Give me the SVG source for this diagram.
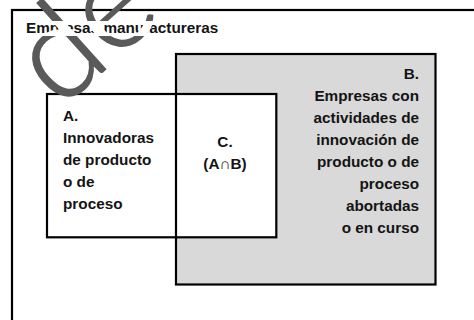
<svg xmlns="http://www.w3.org/2000/svg" width="474" height="320" viewBox="0 0 474 320">
<defs>
<style>
.box{stroke:#000;stroke-width:2.2}
.t{font-family:"Liberation Sans",Arial,sans-serif;font-weight:bold;font-size:15.3px;fill:#141414}
.wm{font-family:Lato,"DejaVu Sans",sans-serif;font-weight:300;font-size:130px}
</style>
<clipPath id="band"><rect x="0" y="21" width="240" height="15"/></clipPath>
</defs>
<rect width="474" height="320" fill="#fff"/>
<g id="outer">
<rect class="box" x="12" y="10" width="480" height="330" fill="none"/>
<text class="t" x="26" y="33">Empresas manufactureras</text>
</g>
<g id="B">
<rect x="176" y="54" width="259.5" height="230.5" fill="#d9d9d9"/>
</g>
<g id="A">
<rect class="box" x="47" y="94" width="229.3" height="143.3" fill="#fff"/>
<text class="t" x="63" y="120.5">A.</text>
<text class="t" x="63" y="142.5">Innovadoras</text>
<text class="t" x="63" y="164.5">de producto</text>
<text class="t" x="63" y="186.5">o de</text>
<text class="t" x="63" y="208.5">proceso</text>
</g>
<g id="B-outline">
<rect class="box" x="176" y="54" width="259.5" height="230.5" fill="none"/>
<g text-anchor="end">
<text class="t" x="419" y="78.5">B.</text>
<text class="t" x="419" y="100.6">Empresas con</text>
<text class="t" x="419" y="122.7">actividades de</text>
<text class="t" x="419" y="144.8">innovación de</text>
<text class="t" x="419" y="166.9">producto o de</text>
<text class="t" x="419" y="189">proceso</text>
<text class="t" x="419" y="211">abortadas</text>
<text class="t" x="419" y="233">o en curso</text>
</g>
</g>
<g id="C">
<text class="t" x="225" y="147" text-anchor="middle">C.</text>
<text class="t" x="225" y="169" text-anchor="middle">(A∩B)</text>
</g>
<g id="connectors"/>
<g id="watermark">
<text class="wm" transform="translate(60,110) rotate(-42)" fill="#5a5a5a" stroke="#5a5a5a" stroke-width="1.8">de</text>
<g clip-path="url(#band)">
<text class="wm" transform="translate(60,110) rotate(-42)" fill="#fff" stroke="#fff" stroke-width="3">de</text>
</g>
</g>
</svg>
